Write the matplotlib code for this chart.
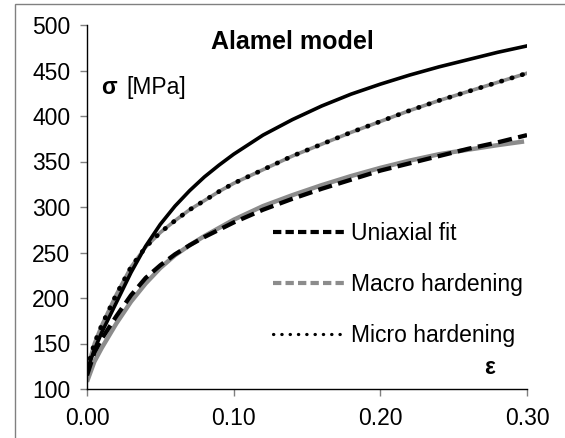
import matplotlib
matplotlib.use("Agg")
import matplotlib.pyplot as plt
from matplotlib.lines import Line2D
from matplotlib.patches import Rectangle

plt.rcParams['font.family'] = ['Liberation Sans', 'DejaVu Sans']

# Strain grid
strain = [0.0, 0.005, 0.01, 0.02, 0.03, 0.04, 0.05, 0.06, 0.07, 0.08, 0.09, 0.10,
          0.12, 0.14, 0.16, 0.18, 0.20, 0.22, 0.24, 0.26, 0.28, 0.30]

# Top solid curve (no legend entry)
taylor = [120, 143, 162, 195, 228, 257, 281, 301, 318, 333, 346, 358,
          379, 396, 411, 424, 435, 445, 454, 462, 470, 477]

# Micro hardening (dotted over gray)
micro = [122, 150, 170, 204, 234, 256, 272, 285, 297, 307, 317, 326,
         341, 356, 369, 382, 394, 406, 417, 427, 437, 447]

# Uniaxial fit (black dashed)
uniaxial = [115, 140, 155, 180, 203, 222, 236, 248, 258, 267, 275, 283,
            297, 309, 320, 330, 340, 348, 356, 364, 371, 379]

# Macro hardening (gray)
macro_strain = [0.0, 0.005, 0.01, 0.02, 0.03, 0.04, 0.05, 0.06, 0.07, 0.08, 0.09, 0.10,
                0.12, 0.14, 0.16, 0.18, 0.20, 0.22, 0.24, 0.26, 0.28, 0.298]
macro = [108, 130, 145, 172, 196, 216, 233, 247, 258, 268, 277, 286,
         301, 313, 324, 334, 343, 351, 358, 363, 368, 372]

xticks = [0.0, 0.1, 0.2, 0.3]
xticklabels = ["0.00", "0.10", "0.20", "0.30"]
yticks = [100, 150, 200, 250, 300, 350, 400, 450, 500]

W, H = 565, 438
fig = plt.figure(figsize=(W / 100, H / 100), dpi=100)
ax = fig.add_axes([87 / W, 1 - 389 / H, 440 / W, 364 / H])

# figure border (gray, only left and top visible)
fig.patches.append(Rectangle((15 / W, -0.2), 1.5, 1.2 - 4 / H, transform=fig.transFigure,
                             fill=False, edgecolor='#808080', linewidth=1.0, zorder=0))

gray = '#8c8c8c'
ax.plot(macro_strain, macro, color=gray, lw=3.2, solid_capstyle='butt', zorder=2)
ax.plot(strain, uniaxial, color='black', lw=3.1, dashes=(3.3, 1.5), dash_capstyle='butt', zorder=3)
ax.plot(strain, micro, color=gray, lw=2.6, zorder=2)
ax.plot(strain, micro, color='black', lw=3.4, linestyle=(0, (0.1, 2.2)), dash_capstyle='round', zorder=3)
ax.plot(strain, taylor, color='black', lw=2.6, zorder=3)

ax.set_xlim(0, 0.30)
ax.set_ylim(100, 500)
ax.set_xticks(xticks)
ax.set_xticklabels(xticklabels)
ax.set_yticks(yticks)
ax.tick_params(axis='both', labelsize=16.5, colors='#808080', labelcolor='black',
               direction='out', length=5, width=1)
ax.tick_params(axis='y', pad=7)
ax.tick_params(axis='x', pad=8)
for s in ['top', 'right']:
    ax.spines[s].set_visible(False)
for s in ['left', 'bottom']:
    ax.spines[s].set_color('black')
    ax.spines[s].set_linewidth(1.0)

ax.text(0.466, 0.954, "Alamel model", transform=ax.transAxes, ha='center', va='center',
        fontsize=18, fontweight='bold')
ax.text(0.032, 0.828, "σ", transform=ax.transAxes, ha='left', va='center',
        fontsize=16.5, fontweight='bold')
ax.text(0.09, 0.828, "[MPa]", transform=ax.transAxes, ha='left', va='center', fontsize=16.5)
ax.text(0.916, 0.058, "ε", transform=ax.transAxes, ha='center', va='center',
        fontsize=16.5, fontweight='bold')

handles = [
    Line2D([], [], color='black', lw=3.0, dashes=(2.0, 1.0)),
    Line2D([], [], color=gray, lw=3.0, dashes=(2.0, 1.0)),
    Line2D([], [], color='black', lw=2.3, linestyle=(0, (0.1, 2.5)), dash_capstyle='round'),
]
labels = ["Uniaxial fit", "Macro hardening", "Micro hardening"]
ax.legend(handles, labels, loc='upper left', bbox_to_anchor=((273 - 87) / 440, (389 - 222) / 364),
          frameon=False, fontsize=16.5, handlelength=3.1, handletextpad=0.3,
          labelspacing=1.22, borderpad=0, borderaxespad=0)

fig.savefig("out.png", dpi=100, facecolor='white')
